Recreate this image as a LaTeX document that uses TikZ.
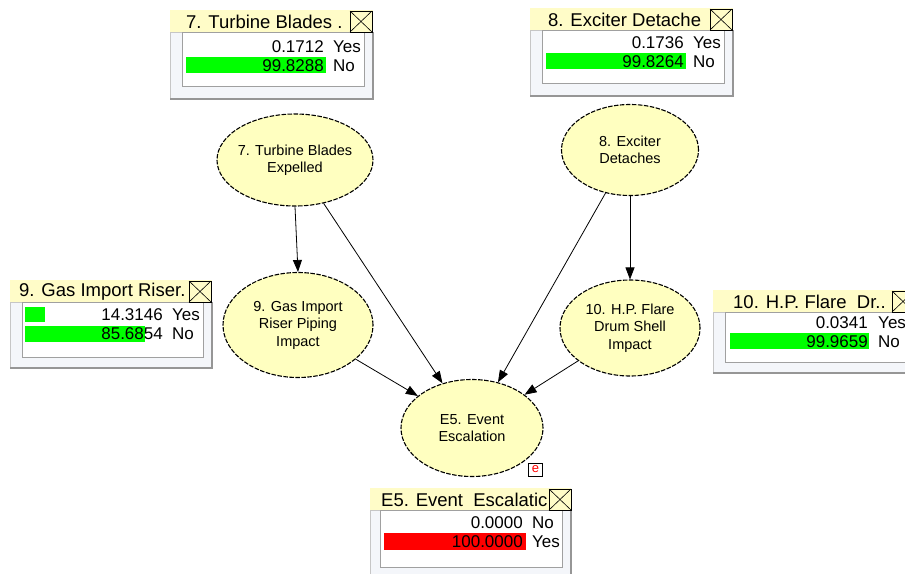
\documentclass[tikz,border=0pt]{standalone}
\usepackage{fontspec}
\setmainfont{Liberation Sans}
\usetikzlibrary{arrows.meta,shapes.geometric}
\definecolor{nodefill}{RGB}{255,255,192}
\definecolor{titlefill}{RGB}{255,252,200}
\definecolor{panelfill}{RGB}{244,246,250}
\definecolor{panelshadow}{RGB}{150,150,150}
\definecolor{innerline}{RGB}{160,160,160}
\definecolor{barred}{RGB}{255,0,0}
\definecolor{bargreen}{RGB}{0,255,0}
\tikzset{
  bnnode/.style={ellipse, draw=black, fill=nodefill, line width=1.1pt,
    dash pattern=on 4.5pt off 1.5pt, inner sep=-5pt, align=center,
    font=\fontsize{14.5}{17.5}\selectfont},
  link/.style={-{Triangle[length=12pt,width=9pt]}, line width=0.8pt, black},
  titlebar/.style={fill=titlefill, draw=none},
  panel/.style={fill=panelfill, draw=innerline!60, line width=0.6pt},
  innerbox/.style={fill=white, draw=innerline, line width=0.8pt},
  closebox/.style={draw=black, line width=0.8pt, fill=titlefill},
  titletext/.style={anchor=west, inner sep=0pt, font=\fontsize{18.5}{20}\selectfont},
  numtext/.style={anchor=east, inner sep=0pt, font=\fontsize{17}{18}\selectfont},
  labtext/.style={anchor=west, inner sep=0pt, font=\fontsize{17}{18}\selectfont},
}
\begin{document}
\begin{tikzpicture}[x=1pt,y=-1pt]
\useasboundingbox (0,0) rectangle (905,573);
\clip (0,0) rectangle (905,573);
\fill[white] (0,0) rectangle (905,573);

% ---------- network nodes ----------
\node[bnnode, minimum width=156pt, minimum height=92pt] (n7) at (295,160) {7. Turbine Blades\\Expelled};
\node[bnnode, minimum width=137pt, minimum height=91pt] (n8) at (630,150) {8. Exciter\\Detaches};
\node[bnnode, minimum width=150pt, minimum height=105pt] (n9) at (298,325) {9. Gas Import\\Riser Piping\\Impact};
\node[bnnode, minimum width=140pt, minimum height=96pt] (n10) at (630,328) {10. H.P. Flare\\Drum Shell\\Impact};
\node[bnnode, minimum width=142pt, minimum height=97pt] (e5) at (472,428) {E5. Event\\Escalation};

\node[draw=black, fill=white, line width=0.9pt, minimum width=14pt, minimum height=13pt, inner sep=0pt,
  text=red, font=\fontsize{13}{13}\selectfont] (ebox) at (535.5,469.5) {e};

% ---------- connectors ----------
\draw[link] (n7.south) -- (n9.north);
\draw[link] (n8.south) -- (n10.north);
\draw[link] (n7) -- (e5);
\draw[link] (n8) -- (e5);
\draw[link] (n9) -- (e5);
\draw[link] (n10) -- (e5);

% ---------- monitor 7 ----------
\path[panel] (170,32) rectangle (373,99);
\draw[panelshadow, line width=1.2pt] (170,99) -- (373,99) -- (373,32);
\path[innerbox] (182,32) rectangle (364,86);
\path[titlebar] (170,10) rectangle (373,32);
\node[titletext] (m7t) at (186,21.5) {7. Turbine Blades .};
\draw[closebox] (350,11) rectangle (372,32);
\draw[line width=0.6pt] (350,11) -- (372,32) (350,32) -- (372,11);
\fill[bargreen] (186,57) rectangle (326,73);
\node[numtext] (m7a) at (324,47) {0.1712};
\node[labtext] (m7b) at (333,47) {Yes};
\node[numtext] (m7c) at (324,66) {99.8288};
\node[labtext] (m7d) at (333,66) {No};

% ---------- monitor 8 ----------
\path[panel] (530,30) rectangle (733,96);
\draw[panelshadow, line width=1.2pt] (530,96) -- (733,96) -- (733,30);
\path[innerbox] (542,30) rectangle (724,83);
\path[titlebar] (530,8) rectangle (733,30);
\node[titletext] (m8t) at (548,19.5) {8. Exciter Detache};
\draw[closebox] (710,9) rectangle (732,30);
\draw[line width=0.6pt] (710,9) -- (732,30) (710,30) -- (732,9);
\fill[bargreen] (546,53) rectangle (686,69);
\node[numtext] (m8a) at (684,43) {0.1736};
\node[labtext] (m8b) at (693,43) {Yes};
\node[numtext] (m8c) at (684,62) {99.8264};
\node[labtext] (m8d) at (693,62) {No};

% ---------- monitor 9 ----------
\path[panel] (10,302) rectangle (212,368);
\draw[panelshadow, line width=1.2pt] (10,368) -- (212,368) -- (212,302);
\path[innerbox] (22,302) rectangle (203,357);
\path[titlebar] (10,280) rectangle (212,302);
\node[titletext] (m9t) at (19,291.5) {9. Gas Import Riser.};
\draw[closebox] (189,281) rectangle (211,302);
\draw[line width=0.6pt] (189,281) -- (211,302) (189,302) -- (211,281);
\fill[bargreen] (25,307) rectangle (45,322);
\fill[bargreen] (25,326) rectangle (145,342);
\node[numtext] (m9a) at (163,315) {14.3146};
\node[labtext] (m9b) at (172,315) {Yes};
\node[numtext] (m9c) at (163,334) {85.6854};
\node[labtext] (m9d) at (172,334) {No};

% ---------- monitor 10 ----------
\path[panel] (713,312) rectangle (920,373);
\draw[panelshadow, line width=1.2pt] (713,373) -- (920,373);
\path[innerbox] (725,312) rectangle (920,362);
\path[titlebar] (713,290) rectangle (920,312);
\node[titletext] (m10t) at (733,301.5) {10. H.P. Flare\ \ Dr..};
\draw[closebox] (892,291) rectangle (914,312);
\draw[line width=0.6pt] (892,291) -- (914,312) (892,312) -- (914,291);
\fill[bargreen] (730,333) rectangle (869,349);
\node[numtext] (m10a) at (868,323) {0.0341};
\node[labtext] (m10b) at (878,323) {Yes};
\node[numtext] (m10c) at (868,342) {99.9659};
\node[labtext] (m10d) at (878,342) {No};

% ---------- monitor E5 ----------
\path[panel] (370,510) rectangle (571,580);
\draw[panelshadow, line width=1.2pt] (571,510) -- (571,580);
\path[innerbox] (380,510) rectangle (562,567);
\path[titlebar] (370,488) rectangle (571,510);
\node[titletext] (m5t) at (381,499.5) {E5. Event\ \ Escalatic};
\draw[closebox] (549,489) rectangle (571,510);
\draw[line width=0.6pt] (549,489) -- (571,510) (549,510) -- (571,489);
\fill[barred] (384,533) rectangle (526,550);
\node[numtext] (m5a) at (523,523) {0.0000};
\node[labtext] (m5b) at (532,523) {No};
\node[numtext] (m5c) at (523,542) {100.0000};
\node[labtext] (m5d) at (532,542) {Yes};
\end{tikzpicture}
\end{document}
